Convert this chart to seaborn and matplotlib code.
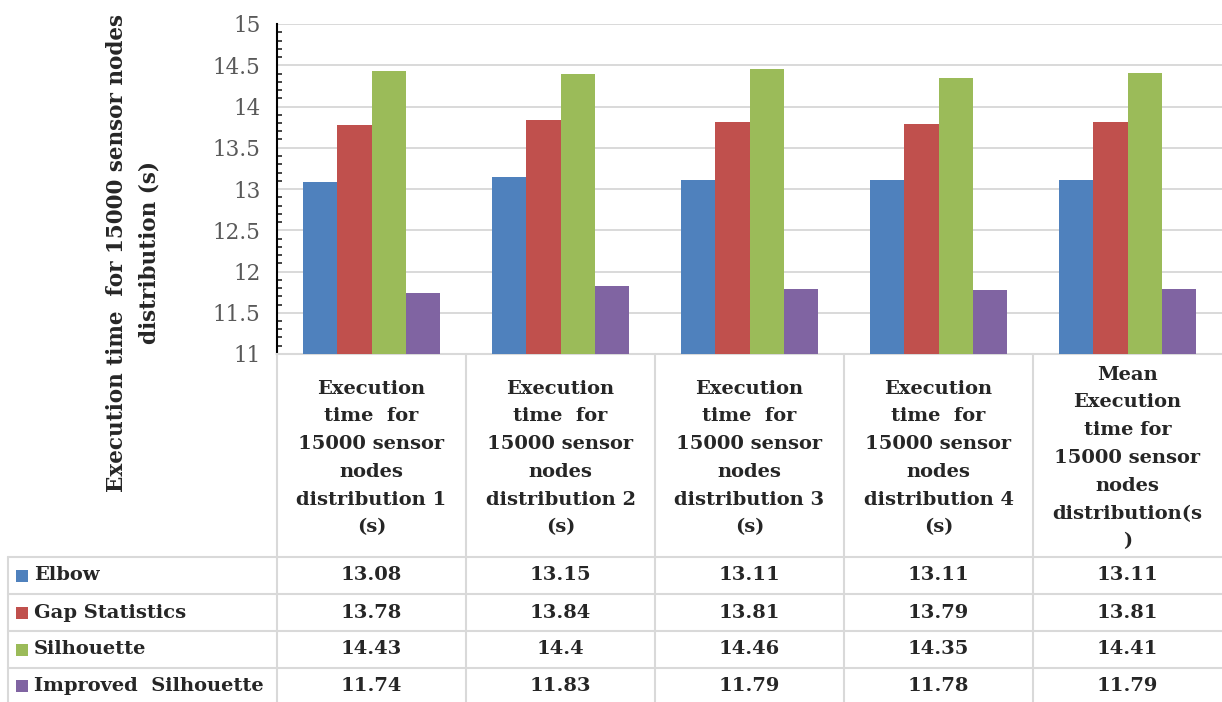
import matplotlib
matplotlib.use("Agg")
import matplotlib.pyplot as plt
import matplotlib.transforms as mtransforms
from matplotlib.patches import Rectangle
from matplotlib.ticker import MultipleLocator, FuncFormatter
import pandas as pd
import seaborn as sns

# ---- data ----
categories = [
    "Execution\ntime  for\n15000 sensor\nnodes\ndistribution 1\n(s)",
    "Execution\ntime  for\n15000 sensor\nnodes\ndistribution 2\n(s)",
    "Execution\ntime  for\n15000 sensor\nnodes\ndistribution 3\n(s)",
    "Execution\ntime  for\n15000 sensor\nnodes\ndistribution 4\n(s)",
    "Mean\nExecution\ntime for\n15000 sensor\nnodes\ndistribution(s\n)",
]
methods = ["Elbow", "Gap Statistics", "Silhouette", "Improved  Silhouette"]
elbow = [13.08, 13.15, 13.11, 13.11, 13.11]
gap_statistics = [13.78, 13.84, 13.81, 13.79, 13.81]
silhouette = [14.43, 14.4, 14.46, 14.35, 14.41]
improved_silhouette = [11.74, 11.83, 11.79, 11.78, 11.79]
colors = ["#4F81BD", "#C0504D", "#9BBB59", "#8064A2"]
y_label = "Execution time  for 15000 sensor nodes\ndistribution (s)"

series = [elbow, gap_statistics, silhouette, improved_silhouette]
df = pd.DataFrame(
    [(cat, m, vals[i]) for m, vals in zip(methods, series) for i, cat in enumerate(categories)],
    columns=["distribution", "method", "time"],
)

# ---- style ----
sns.set_style("white")
plt.rcParams["font.family"] = ["DejaVu Serif"]

W, H = 1222, 702
fig = plt.figure(figsize=(W / 100, H / 100), dpi=100)


def fx(px):
    return px / W


def fy(py):
    return 1 - py / H


ax = fig.add_axes([fx(277), fy(354), fx(1222) - fx(277), fy(24) - fy(354)])

sns.barplot(
    data=df, x="distribution", y="time", hue="method", palette=colors,
    width=0.725, saturation=1, linewidth=0, legend=False, ax=ax, zorder=3,
)

ax.set_ylim(11, 15)
ax.set_xlim(-0.5, len(categories) - 0.5)
ax.yaxis.set_major_locator(MultipleLocator(0.5))
ax.yaxis.set_minor_locator(MultipleLocator(0.1))
ax.yaxis.set_major_formatter(FuncFormatter(lambda v, p: f"{v:g}"))
ax.grid(axis="y", which="major", color="#D9D9D9", linewidth=1.4, zorder=0)
ax.set_axisbelow(True)
ax.tick_params(axis="y", which="major", direction="inout", length=8, width=1.4,
               labelsize=15.5, labelcolor="#595959", pad=8)
ax.tick_params(axis="y", which="minor", direction="in", length=3.5, width=1.2, left=True)
ax.tick_params(axis="x", bottom=False, labelbottom=False)
ax.set_xlabel("")
ax.set_ylabel("")
for s in ["top", "right"]:
    ax.spines[s].set_visible(False)
ax.spines["left"].set_color("black")
ax.spines["left"].set_linewidth(1.5)
ax.spines["bottom"].set_color("#D9D9D9")
ax.spines["bottom"].set_linewidth(1.5)

# y-axis title
fig.text(fx(133), fy(253), y_label, rotation=90, ha="center", va="center",
         fontsize=15.5, fontweight="bold", linespacing=1.6)

# ---- data table below the plot ----
grid_c = "#D9D9D9"
blend = mtransforms.blended_transform_factory(ax.transData, fig.transFigure)
line_kw = dict(color=grid_c, linewidth=1.5, clip_on=False)

# column separators
for i in range(len(categories)):
    fig.add_artist(plt.Line2D([i - 0.5, i - 0.5], [fy(354), fy(702)], transform=blend, **line_kw))
fig.add_artist(plt.Line2D([fx(8), fx(8)], [fy(557), fy(702)], transform=fig.transFigure, **line_kw))

row_tops = [557, 594, 631, 668]
row_bottoms = [594, 631, 668, 704]
for yt in row_tops:
    fig.add_artist(plt.Line2D([fx(8), 1], [fy(yt), fy(yt)], transform=fig.transFigure, **line_kw))

# header cells
for i, cat in enumerate(categories):
    fig.text(i, fy(458), cat, transform=blend, ha="center", va="center",
             fontsize=14, fontweight="bold", linespacing=1.7)

# legend keys, names and values
for r, (m, vals, c) in enumerate(zip(methods, series, colors)):
    yc = fy((row_tops[r] + row_bottoms[r]) / 2)
    fig.add_artist(Rectangle((fx(16), yc - 6 / H), 12 / W, 12 / H,
                             transform=fig.transFigure, color=c, linewidth=0))
    fig.text(fx(34), yc, m, ha="left", va="center", fontsize=14, fontweight="bold")
    for i, v in enumerate(vals):
        fig.text(i, yc, f"{v:g}", transform=blend, ha="center", va="center",
                 fontsize=14, fontweight="bold")

fig.savefig("out.png", dpi=100)
